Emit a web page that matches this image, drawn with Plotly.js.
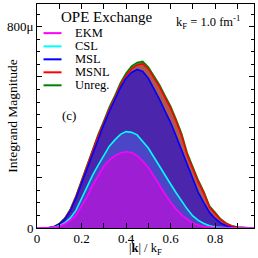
<!DOCTYPE html>
<html><head><meta charset="utf-8">
<script src="https://cdn.plot.ly/plotly-3.0.1.min.js"></script>
<style>html,body{margin:0;padding:0;background:#fff}#plot{width:258px;height:258px}</style>
</head><body><div id="plot"></div>
<script>
const kOverKF = [0,0.025,0.05,0.075,0.1,0.125,0.15,0.175,0.2,0.225,0.25,0.275,0.3,0.325,0.35,0.375,0.4,0.425,0.45,0.475,0.5,0.525,0.55,0.575,0.6,0.625,0.65,0.675,0.7,0.725,0.75,0.775,0.8,0.825,0.85,0.875,0.9,0.925,0.95,0.975];
// values in units of 1e-6
const ekm   = [0,0,0.3,2,7,16,30,50,88,125,170,210,245,270,287,298,303,300,287,266,240,207,170,135,103,75,52,34,20,11,6,2.5,0.8,0.2,0,0,0,0,0,0];
const csl   = [0,0,0.5,3,9,20,40,70,118,160,210,250,290,325,350,372,383,380,370,345,318,282,248,210,175,140,105,75,48,30,18,9,4,1,0.3,0,0,0,0,0];
const msl   = [0,0,0.5,4,15,35,68,118,178,230,298,358,410,463,508,558,595,618,630,622,595,555,512,465,420,365,310,250,195,140,100,62,38,20,9,3,1,0.3,0,0];
const msnl  = [0,0,0.5,4,16,37,72,123,184,237,306,366,418,472,518,568,605,632,648,652,632,598,562,518,476,424,366,290,235,182,138,82,58,33,17,8,3,1,0.3,0];
const unreg = [0,0,0.6,5,17,39,75,127,189,243,312,372,425,480,526,577,615,643,658,662,640,606,570,526,484,432,374,298,242,189,144,87,62,36,19,9,4,1.2,0.4,0];
const names = ['EKM','CSL','MSL','MSNL','Unreg.'];
const series = [ekm, csl, msl, msnl, unreg];
const lineColors = ['#ff00ff','#00ffff','#0000ff','#ff0000','#008000'];
const fillColors = ['#9e1fd3','#4a46c6','#4b26ac','#b0584a','#3a8a3a'];
const yTickVals = [0, 800e-6];
const yTickText = ['0', '800μ'];
const yLongTicks = [200e-6, 400e-6, 600e-6];
const xTitle = '|<b>k</b>| / k<sub>F</sub>';
const yTitle = 'Integrand Magnitude';

const scale = v => v.map(d => d*1e-6);
const traces = [];
for (let i = series.length-1; i >= 0; i--) {
  traces.push({x:kOverKF, y:scale(series[i]), type:'scatter', mode:'lines',
    line:{width:0, color:lineColors[i]}, fill:'tozeroy', fillcolor:fillColors[i],
    showlegend:false, hoverinfo:'skip'});
}
for (let i = series.length-1; i >= 0; i--) {
  traces.push({x:kOverKF, y:scale(series[i]), type:'scatter', mode:'lines',
    name:names[i], line:{width:1.6, color:lineColors[i]}, showlegend:false});
}
const serif = 'Liberation Serif, Times New Roman, serif';
const legY = [0.870, 0.811, 0.753, 0.695, 0.637];
const shapes = [], annotations = [];
names.forEach((n, i) => {
  shapes.push({type:'line', xref:'paper', yref:'paper', x0:0.03, x1:0.113, y0:legY[i], y1:legY[i],
    line:{color:lineColors[i], width:2}});
  annotations.push({text:n, xref:'paper', yref:'paper', x:0.168, y:legY[i], xanchor:'left', yanchor:'middle',
    showarrow:false, font:{family:serif, size:12.5, color:'#000'}});
});
annotations.push(
  {text:'OPE Exchange', xref:'paper', yref:'paper', x:0.1, y:0.944, xanchor:'left', yanchor:'middle', showarrow:false, font:{family:serif, size:15}},
  {text:'k<sub>F</sub> = 1.0 fm<sup>-1</sup>', xref:'paper', yref:'paper', x:0.945, y:0.918, xanchor:'right', yanchor:'middle', showarrow:false, font:{family:serif, size:12.5}},
  {text:'(c)', xref:'paper', yref:'paper', x:0.105, y:0.504, xanchor:'left', yanchor:'middle', showarrow:false, font:{family:serif, size:13}},
  {text:xTitle, xref:'paper', yref:'paper', x:0.5, y:-0.134, xanchor:'center', yanchor:'bottom', borderpad:0, showarrow:false, font:{family:serif, size:12.5}},
  {text:yTitle, xref:'paper', yref:'paper', x:-0.116, y:0.5, xanchor:'center', yanchor:'middle', textangle:-90, showarrow:false, font:{family:serif, size:13.5}}
);
const tickStyle = {ticks:'inside', tickcolor:'#000', showline:true, linecolor:'#000', linewidth:1,
  mirror:'allticks', showgrid:false, zeroline:false};
const layout = {
  width:258, height:258,
  margin:{l:37, r:4, t:4, b:30},
  paper_bgcolor:'#fff', plot_bgcolor:'#fff',
  font:{family:serif, size:13, color:'#000'},
  showlegend:false,
  xaxis:Object.assign({range:[0,0.975], dtick:0.2, tick0:0, ticklen:5, ticklabelstandoff:-2,
    minor:{dtick:0.1, ticks:'inside', ticklen:3, tickcolor:'#000', showgrid:false},
    tickfont:{family:serif, size:13}}, tickStyle),
  yaxis:Object.assign({range:[0,0.00089], tickvals:yTickVals, ticktext:yTickText, ticklen:5,
    minor:{dtick:50e-6, ticks:'inside', ticklen:3, tickcolor:'#000', showgrid:false},
    tickfont:{family:serif, size:13}}, tickStyle),
  yaxis2:Object.assign({range:[0,0.00089], overlaying:'y', anchor:'x', side:'left', tickvals:yLongTicks,
    ticklen:5, showticklabels:false}, tickStyle),
  shapes:shapes,
  annotations:annotations
};
traces.push({x:[0], y:[0], yaxis:'y2', type:'scatter', mode:'markers', marker:{opacity:0}, showlegend:false, hoverinfo:'skip'});
Plotly.newPlot('plot', traces, layout, {staticPlot:true, displayModeBar:false});
</script></body></html>
